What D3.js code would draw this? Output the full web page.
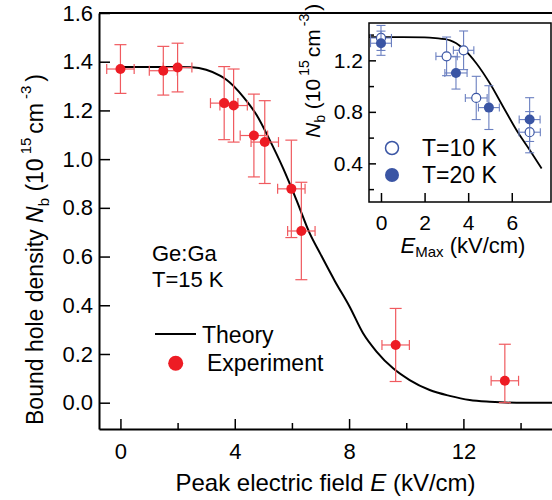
<!DOCTYPE html>
<html>
<head>
<meta charset="utf-8">
<script src="https://cdn.jsdelivr.net/npm/d3@7"></script>
<style>
  html, body { margin: 0; padding: 0; background: #fff; }
  svg { display: block; }
  text { font-family: "Liberation Sans", Arial, sans-serif; fill: #000; }
</style>
</head>
<body>
<svg id="chart" width="552" height="500"></svg>
<script>
// ---------------- data ----------------
// main panel: theory curve (E in kV/cm, Nb in 1e15 cm^-3)
const theoryE = [0, 1, 2, 2.5, 3.0, 3.5, 3.71, 4.29, 4.76, 5.22, 5.69, 6.16, 6.62, 7.0, 7.5, 8.02, 8.49, 8.96, 9.54, 10.12, 10.82, 11.52, 12.22, 12.92, 13.86, 15.1];
const theoryN = [1.378, 1.378, 1.378, 1.377, 1.367, 1.342, 1.326, 1.257, 1.182, 1.079, 0.963, 0.832, 0.696, 0.61, 0.50, 0.394, 0.285, 0.21, 0.141, 0.093, 0.052, 0.028, 0.011, 0.004, 0.0, 0.0];
// main panel: experiment
const expE      = [0, 1.5, 2.0, 3.63, 3.96, 4.67, 5.05, 5.98, 6.33, 9.63, 13.45];
const expN      = [1.370, 1.363, 1.376, 1.230, 1.220, 1.097, 1.070, 0.878, 0.705, 0.237, 0.090];
const expErrE   = [0.48, 0.49, 0.50, 0.48, 0.48, 0.48, 0.48, 0.48, 0.48, 0.48, 0.48];
const expErrLo  = [0.10, 0.10, 0.10, 0.15, 0.15, 0.17, 0.17, 0.20, 0.20, 0.15, 0.09];
const expErrHi  = [0.10, 0.10, 0.10, 0.15, 0.15, 0.17, 0.17, 0.20, 0.20, 0.15, 0.15];
// main ticks
const mainXMajor = [0, 4, 8, 12];
const mainXMinor = [2, 6, 10, 14];
const mainYTicks = [0.0, 0.2, 0.4, 0.6, 0.8, 1.0, 1.2, 1.4, 1.6];

// inset: theory
const insetTheoryE = [-0.55, 0, 1, 2, 2.5, 3.17, 3.78, 4.39, 5.0, 5.61, 6.22, 6.83, 7.37];
const insetTheoryN = [1.38, 1.38, 1.38, 1.378, 1.372, 1.355, 1.29, 1.174, 1.02, 0.838, 0.657, 0.502, 0.36];
// inset: T=10 K (open)
const t10E    = [0, 3.01, 3.79, 4.37, 6.82];
const t10N    = [1.374, 1.231, 1.278, 0.908, 0.642];
const t10ErrE = [0.48, 0.49, 0.47, 0.50, 0.49];
const t10ErrN = [0.097, 0.15, 0.15, 0.168, 0.16];
// inset: T=20 K (filled)
const t20E    = [0, 3.44, 4.95, 6.82];
const t20N    = [1.333, 1.102, 0.833, 0.74];
const t20ErrE = [0.48, 0.51, 0.48, 0.48];
const t20ErrN = [0.094, 0.125, 0.17, 0.17];
// inset ticks
const insetXMajor = [0, 2, 4, 6];
const insetYMajor = [0.4, 0.8, 1.2];
const insetYMinor = [0.2, 0.6, 1.0, 1.4];

// ---------------- drawing ----------------
const RED = "#ed1c24", RED_ERR = "#f05a5f";
const BLUE = "#3a55a4", BLUE_ERR = "#6a7fc0";

const svg = d3.select("#chart");

const x = d3.scaleLinear().domain([-0.75, 15.1]).range([99, 552]);
const y = d3.scaleLinear().domain([-0.108, 1.6]).range([429, 13]);

// frame top line
svg.append("line").attr("x1", x.range()[0]).attr("x2", x.range()[1])
  .attr("y1", y.range()[1]).attr("y2", y.range()[1])
  .attr("stroke", "#000").attr("stroke-width", 2);

// axes
const gx = svg.append("g").attr("transform", `translate(0,${y.range()[0]})`)
  .call(d3.axisBottom(x).tickValues(mainXMajor).tickFormat(d3.format("d"))
        .tickSizeInner(-10).tickSizeOuter(0).tickPadding(14));
const gxm = svg.append("g").attr("transform", `translate(0,${y.range()[0]})`)
  .call(d3.axisBottom(x).tickValues(mainXMinor).tickFormat("")
        .tickSizeInner(-6).tickSizeOuter(0));
gxm.select(".domain").remove();
const gy = svg.append("g").attr("transform", `translate(${x.range()[0]},0)`)
  .call(d3.axisLeft(y).tickValues(mainYTicks).tickFormat(d3.format(".1f"))
        .tickSizeInner(-11).tickSizeOuter(0).tickPadding(6));
[gx, gxm, gy].forEach(g => {
  g.select(".domain").attr("stroke-width", 2);
  g.selectAll(".tick line").attr("stroke-width", 1.5);
  g.selectAll("text").attr("font-size", 22).attr("font-family", "Liberation Sans, Arial, sans-serif");
});

// theory line
const line = d3.line().x(d => x(d[0])).y(d => y(d[1])).curve(d3.curveMonotoneX);
svg.append("path").datum(theoryE.map((e, i) => [e, theoryN[i]]))
  .attr("d", line).attr("fill", "none").attr("stroke", "#000").attr("stroke-width", 2);

// error bars (main)
const expData = expE.map((e, i) => ({e, n: expN[i], de: expErrE[i], lo: expErrLo[i], hi: expErrHi[i]}));
const eb = svg.append("g").attr("stroke", RED_ERR).attr("stroke-width", 1.2).attr("fill", "none");
expData.forEach(d => {
  const cx = x(d.e), cy = y(d.n);
  const y1 = y(d.n + d.hi), y2 = y(d.n - d.lo);
  const x1 = x(d.e - d.de), x2 = x(d.e + d.de);
  eb.append("line").attr("x1", cx).attr("x2", cx).attr("y1", y1).attr("y2", y2);
  eb.append("line").attr("x1", cx - 6).attr("x2", cx + 6).attr("y1", y1).attr("y2", y1);
  eb.append("line").attr("x1", cx - 6).attr("x2", cx + 6).attr("y1", y2).attr("y2", y2);
  eb.append("line").attr("x1", x1).attr("x2", x2).attr("y1", cy).attr("y2", cy);
  eb.append("line").attr("x1", x1).attr("x2", x1).attr("y1", cy - 5).attr("y2", cy + 5);
  eb.append("line").attr("x1", x2).attr("x2", x2).attr("y1", cy - 5).attr("y2", cy + 5);
});
svg.append("g").selectAll("circle").data(expData).join("circle")
  .attr("cx", d => x(d.e)).attr("cy", d => y(d.n)).attr("r", 5).attr("fill", RED);

// axis labels
svg.append("text").attr("x", (x.range()[0] + x.range()[1]) / 2).attr("y", 491)
  .attr("text-anchor", "middle").attr("font-size", 24)
  .call(t => {
    t.append("tspan").text("Peak electric field ");
    t.append("tspan").attr("font-style", "italic").text("E");
    t.append("tspan").text(" (kV/cm)");
  });

svg.append("text").attr("transform", "translate(43,425) rotate(-90)")
  .attr("text-anchor", "start").attr("font-size", 23)
  .call(t => {
    t.append("tspan").text("Bound hole density ");
    t.append("tspan").attr("font-style", "italic").text("N");
    t.append("tspan").attr("font-size", 15).attr("dy", 6).text("b");
    t.append("tspan").attr("dy", -6).text(" (10");
    t.append("tspan").attr("font-size", 15).attr("dy", -12).attr("dx", 4).text("15");
    t.append("tspan").attr("dy", 12).attr("dx", 4).text("cm");
    t.append("tspan").attr("font-size", 15).attr("dy", -12).attr("dx", 4).text("-3");
    t.append("tspan").attr("dy", 12).attr("dx", 4).text(")");
  });

// annotations
svg.append("text").attr("x", 152).attr("y", 261).attr("font-size", 22).text("Ge:Ga");
svg.append("text").attr("x", 152).attr("y", 287).attr("font-size", 22).text("T=15 K");

// legend
svg.append("line").attr("x1", 155).attr("x2", 196).attr("y1", 334).attr("y2", 334)
  .attr("stroke", "#000").attr("stroke-width", 2);
svg.append("text").attr("x", 202).attr("y", 342.5).attr("font-size", 23).text("Theory");
svg.append("circle").attr("cx", 175.7).attr("cy", 363.3).attr("r", 7.5).attr("fill", RED);
svg.append("text").attr("x", 207).attr("y", 370.7).attr("font-size", 23).text("Experiment");

// ---------------- inset ----------------
const xi = d3.scaleLinear().domain([-0.55, 7.8]).range([369, 551]);
const yi = d3.scaleLinear().domain([0.1, 1.49]).range([202, 23]);

svg.append("rect").attr("x", xi.range()[0]).attr("y", yi.range()[1])
  .attr("width", xi.range()[1] - xi.range()[0]).attr("height", yi.range()[0] - yi.range()[1])
  .attr("fill", "#fff").attr("stroke", "none");

const gix = svg.append("g").attr("transform", `translate(0,${yi.range()[0]})`)
  .call(d3.axisBottom(xi).tickValues(insetXMajor).tickFormat(d3.format("d"))
        .tickSizeInner(-9).tickSizeOuter(0).tickPadding(13));
const giy = svg.append("g").attr("transform", `translate(${xi.range()[0]},0)`)
  .call(d3.axisLeft(yi).tickValues(insetYMajor).tickFormat(d3.format(".1f"))
        .tickSizeInner(-7).tickSizeOuter(0).tickPadding(6));
const giym = svg.append("g").attr("transform", `translate(${xi.range()[0]},0)`)
  .call(d3.axisLeft(yi).tickValues(insetYMinor).tickFormat("")
        .tickSizeInner(-5).tickSizeOuter(0));
giym.select(".domain").remove();
[gix, giy, giym].forEach(g => {
  g.select(".domain").remove();
  g.selectAll(".tick line").attr("stroke-width", 1.5);
  g.selectAll("text").attr("font-size", 21).attr("font-family", "Liberation Sans, Arial, sans-serif");
});
svg.append("rect").attr("x", xi.range()[0]).attr("y", yi.range()[1])
  .attr("width", xi.range()[1] - xi.range()[0]).attr("height", yi.range()[0] - yi.range()[1])
  .attr("fill", "none").attr("stroke", "#000").attr("stroke-width", 1.5);

const lineI = d3.line().x(d => xi(d[0])).y(d => yi(d[1])).curve(d3.curveMonotoneX);
svg.append("path").datum(insetTheoryE.map((e, i) => [e, insetTheoryN[i]]))
  .attr("d", lineI).attr("fill", "none").attr("stroke", "#000").attr("stroke-width", 1.8);

function insetSeries(E, N, dE, dN, filled) {
  const data = E.map((e, i) => ({e, n: N[i], de: dE[i], dn: dN[i]}));
  const g = svg.append("g").attr("stroke", BLUE_ERR).attr("stroke-width", 1.1).attr("fill", "none");
  data.forEach(d => {
    const cx = xi(d.e), cy = yi(d.n);
    const y1 = yi(d.n + d.dn), y2 = yi(d.n - d.dn);
    const x1 = xi(d.e - d.de), x2 = xi(d.e + d.de);
    g.append("line").attr("x1", cx).attr("x2", cx).attr("y1", y1).attr("y2", y2);
    g.append("line").attr("x1", cx - 4.5).attr("x2", cx + 4.5).attr("y1", y1).attr("y2", y1);
    g.append("line").attr("x1", cx - 4.5).attr("x2", cx + 4.5).attr("y1", y2).attr("y2", y2);
    g.append("line").attr("x1", x1).attr("x2", x2).attr("y1", cy).attr("y2", cy);
    g.append("line").attr("x1", x1).attr("x2", x1).attr("y1", cy - 4).attr("y2", cy + 4);
    g.append("line").attr("x1", x2).attr("x2", x2).attr("y1", cy - 4).attr("y2", cy + 4);
  });
  svg.append("g").selectAll("circle").data(data).join("circle")
    .attr("cx", d => xi(d.e)).attr("cy", d => yi(d.n)).attr("r", filled ? 5 : 4.5)
    .attr("fill", filled ? BLUE : "#fff").attr("stroke", BLUE).attr("stroke-width", filled ? 0 : 1.2);
}
insetSeries(t10E, t10N, t10ErrE, t10ErrN, false);
insetSeries(t20E, t20N, t20ErrE, t20ErrN, true);

// inset legend
svg.append("circle").attr("cx", 392).attr("cy", 148).attr("r", 6.5)
  .attr("fill", "#fff").attr("stroke", BLUE).attr("stroke-width", 1.5);
svg.append("text").attr("x", 422).attr("y", 156).attr("font-size", 23).text("T=10 K");
svg.append("circle").attr("cx", 392).attr("cy", 175).attr("r", 7).attr("fill", BLUE);
svg.append("text").attr("x", 422).attr("y", 183).attr("font-size", 23).text("T=20 K");

// inset axis labels
svg.append("text").attr("x", 463).attr("y", 253).attr("text-anchor", "middle").attr("font-size", 22)
  .call(t => {
    t.append("tspan").attr("font-style", "italic").text("E");
    t.append("tspan").attr("font-size", 15).attr("dy", 4).text("Max");
    t.append("tspan").attr("dy", -4).text(" (kV/cm)");
  });
svg.append("text").attr("transform", "translate(320,138) rotate(-90)")
  .attr("text-anchor", "start").attr("font-size", 21)
  .call(t => {
    t.append("tspan").attr("font-style", "italic").text("N");
    t.append("tspan").attr("font-size", 14).attr("dy", 5).text("b");
    t.append("tspan").attr("dy", -5).text(" (10");
    t.append("tspan").attr("font-size", 14).attr("dy", -11).attr("dx", 3).text("15");
    t.append("tspan").attr("dy", 11).attr("dx", 3).text("cm");
    t.append("tspan").attr("font-size", 14).attr("dy", -11).attr("dx", 3).text("-3");
    t.append("tspan").attr("dy", 11).attr("dx", 3).text(")");
  });
</script>
</body>
</html>
